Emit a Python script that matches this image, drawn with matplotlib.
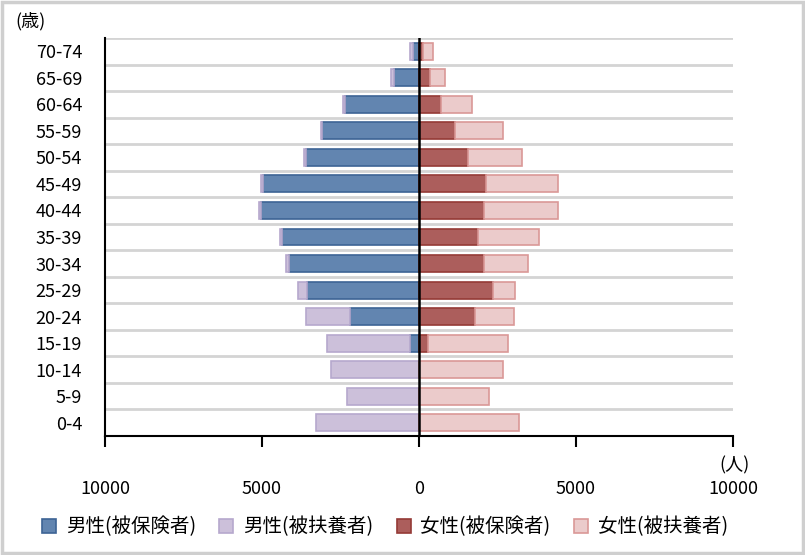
import matplotlib
matplotlib.use("Agg")
import matplotlib.pyplot as plt
from matplotlib.patches import Rectangle
from matplotlib.ticker import FuncFormatter
import numpy as np

plt.rcParams['font.family'] = ['Noto Sans CJK JP', 'DejaVu Sans']

age_groups = ["0-4", "5-9", "10-14", "15-19", "20-24", "25-29", "30-34",
              "35-39", "40-44", "45-49", "50-54", "55-59", "60-64", "65-69", "70-74"]

male_insured = [0, 0, 0, 300, 2200, 3570, 4130, 4360, 5030, 4980, 3610, 3090, 2360, 800, 190]
male_dependent = [3270, 2280, 2800, 2620, 1410, 270, 100, 55, 55, 50, 50, 45, 50, 100, 100]
female_insured = [0, 0, 0, 290, 1770, 2345, 2060, 1890, 2060, 2120, 1550, 1160, 690, 350, 120]
female_dependent = [3195, 2220, 2675, 2555, 1245, 720, 1410, 1920, 2380, 2320, 1740, 1500, 1010, 480, 320]

series_labels = ["男性(被保険者)", "男性(被扶養者)", "女性(被保険者)", "女性(被扶養者)"]
x_ticks = [-10000, -5000, 0, 5000, 10000]

fig = plt.figure(figsize=(8.05, 5.55), dpi=100)
ax = fig.add_axes([105 / 805, 1 - 436 / 555, 628 / 805, 398 / 555])

y = np.arange(len(age_groups))
h = 0.64
mi = np.array(male_insured)
md = np.array(male_dependent)
fi = np.array(female_insured)
fd = np.array(female_dependent)

b1 = ax.barh(y, -mi, height=h, color="#6285B0", edgecolor="#3D6495", linewidth=1.2,
             label=series_labels[0], zorder=3)
b2 = ax.barh(y, -md, left=-mi, height=h, color="#CCC0DA", edgecolor="#B6A8CD", linewidth=1.2,
             label=series_labels[1], zorder=3)
b3 = ax.barh(y, fi, height=h, color="#AC5E5C", edgecolor="#953A36", linewidth=1.2,
             label=series_labels[2], zorder=3)
b4 = ax.barh(y, fd, left=fi, height=h, color="#EBCBCB", edgecolor="#DA9897", linewidth=1.2,
             label=series_labels[3], zorder=3)

ax.set_xlim(-10000, 10000)
ax.set_ylim(-0.5, len(age_groups) - 0.5)

# horizontal separators between age groups
for k in range(len(age_groups)):
    ax.axhline(k + 0.5, color="#D4D4D4", linewidth=2.0, zorder=1)

ax.axvline(0, color="black", linewidth=1.8, zorder=4)

ax.set_yticks(y)
ax.set_yticklabels(age_groups, fontsize=13)
ax.tick_params(axis='y', length=0, pad=16.5)

ax.set_xticks(x_ticks)
ax.xaxis.set_major_formatter(FuncFormatter(lambda v, p: f"{abs(int(v))}"))
ax.tick_params(axis='x', length=8, width=1.5, direction='out', pad=24, labelsize=13)

for s in ["top", "right"]:
    ax.spines[s].set_visible(False)
ax.spines["left"].set_linewidth(1.5)
ax.spines["bottom"].set_linewidth(1.5)

fig.text(15 / 805, 1 - 21 / 555, "(歳)", fontsize=13, ha="left", va="center")
fig.text(734 / 805, 1 - 465 / 555, "(人)", fontsize=13, ha="center", va="center")

fig.legend(handles=[b1, b2, b3, b4], labels=series_labels, loc="center",
           bbox_to_anchor=(385 / 805, 1 - 527 / 555), ncol=4, frameon=False, fontsize=14,
           handlelength=0.72, handleheight=0.72, handletextpad=0.5, columnspacing=1.2)

fig.patches.append(Rectangle((0.002, 0.003), 0.996, 0.994, transform=fig.transFigure,
                             fill=False, edgecolor="#CFCFCF", linewidth=2.5))

fig.savefig("out.png", dpi=100)
